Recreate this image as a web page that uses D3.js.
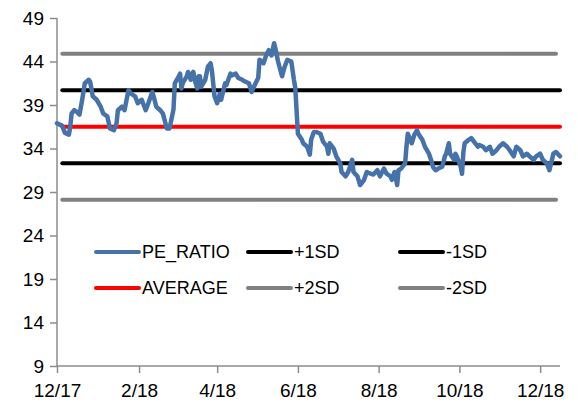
<!DOCTYPE html>
<html>
<head>
<meta charset="utf-8">
<title>PE Ratio with SD bands</title>
<script src="https://d3js.org/d3.v7.min.js"></script>
<style>
  body { margin: 0; background: #fff; }
  text { font-family: "Liberation Sans", Arial, sans-serif; fill: #000; }
</style>
</head>
<body>
<svg width="578" height="406"></svg>
<script>
    // PE ratio readings (date, value)
    const peDates = ["2017-12-01","2017-12-05","2017-12-07","2017-12-10","2017-12-11","2017-12-12","2017-12-14","2017-12-16","2017-12-18","2017-12-20",
        "2017-12-22","2017-12-25","2017-12-26","2017-12-28","2017-12-31","2018-01-03","2018-01-05","2018-01-08","2018-01-10","2018-01-13",
        "2018-01-15","2018-01-16","2018-01-19","2018-01-21","2018-01-24","2018-01-26","2018-01-29","2018-01-31","2018-02-03","2018-02-06",
        "2018-02-08","2018-02-11","2018-02-12","2018-02-14","2018-02-17","2018-02-19","2018-02-22","2018-02-24","2018-02-27","2018-02-28",
        "2018-03-03","2018-03-04","2018-03-05","2018-03-06","2018-03-09","2018-03-10","2018-03-12","2018-03-13","2018-03-14","2018-03-15",
        "2018-03-17","2018-03-18","2018-03-19","2018-03-20","2018-03-23","2018-03-25","2018-03-27","2018-03-28","2018-03-29","2018-03-30",
        "2018-04-01","2018-04-03","2018-04-04","2018-04-07","2018-04-08","2018-04-11","2018-04-12","2018-04-15","2018-04-17","2018-04-20",
        "2018-04-22","2018-04-25","2018-04-27","2018-04-30","2018-05-02","2018-05-03","2018-05-06","2018-05-08","2018-05-10","2018-05-12",
        "2018-05-14","2018-05-15","2018-05-17","2018-05-20","2018-05-22","2018-05-24","2018-05-27","2018-05-29","2018-05-30","2018-06-01",
        "2018-06-04","2018-06-05","2018-06-08","2018-06-10","2018-06-11","2018-06-13","2018-06-15","2018-06-18","2018-06-20","2018-06-23",
        "2018-06-24","2018-06-25","2018-06-28","2018-06-30","2018-07-03","2018-07-04","2018-07-07","2018-07-09","2018-07-12","2018-07-13",
        "2018-07-16","2018-07-18","2018-07-21","2018-07-23","2018-07-26","2018-07-28","2018-07-31","2018-08-02","2018-08-05","2018-08-07",
        "2018-08-10","2018-08-11","2018-08-13","2018-08-15","2018-08-16","2018-08-18","2018-08-21","2018-08-22","2018-08-23","2018-08-26",
        "2018-08-28","2018-08-30","2018-08-31","2018-09-03","2018-09-05","2018-09-08","2018-09-10","2018-09-11","2018-09-13","2018-09-15",
        "2018-09-18","2018-09-20","2018-09-21","2018-09-23","2018-09-24","2018-09-27","2018-09-28","2018-09-29","2018-10-02","2018-10-03",
        "2018-10-04","2018-10-05","2018-10-08","2018-10-10","2018-10-13","2018-10-15","2018-10-16","2018-10-19","2018-10-21","2018-10-24",
        "2018-10-26","2018-10-29","2018-10-31","2018-11-03","2018-11-06","2018-11-08","2018-11-11","2018-11-13","2018-11-16","2018-11-18",
        "2018-11-21","2018-11-23","2018-11-26","2018-11-28","2018-12-01","2018-12-03","2018-12-06","2018-12-08","2018-12-11","2018-12-13",
        "2018-12-16"];
    const peValues = [36.9,36.6,35.8,35.6,36.5,38.0,38.4,38.2,37.9,39.6,
        41.5,41.9,41.7,40.0,39.6,38.8,38.0,37.7,36.3,36.1,
        36.9,38.4,38.8,38.4,40.7,40.3,40.0,39.2,39.6,38.4,
        39.2,40.5,40.0,38.8,38.4,38.0,36.3,36.3,38.5,41.5,
        42.3,42.6,40.9,41.5,42.3,42.8,41.9,42.6,42.8,41.9,
        40.9,42.3,42.3,41.1,41.9,43.4,43.8,43.0,41.5,40.0,
        39.2,40.3,39.6,41.5,41.3,42.6,42.4,42.6,42.1,41.9,
        41.7,41.5,40.5,41.5,42.1,44.2,43.8,44.7,45.3,44.7,
        46.1,45.5,44.0,42.3,43.4,44.2,44.0,41.9,41.0,35.7,
        35.0,34.6,34.2,33.3,35.0,35.9,35.9,35.7,34.8,34.2,
        33.4,34.6,34.0,33.1,32.3,31.3,30.8,31.3,32.7,31.3,
        30.8,29.8,30.4,31.3,31.1,31.0,31.5,30.8,31.7,31.1,
        30.8,30.4,31.3,29.8,31.5,31.7,32.3,34.2,35.7,34.6,
        35.6,36.1,35.7,35.0,34.2,33.4,32.5,31.9,31.5,31.7,
        31.9,33.1,33.4,34.6,33.4,32.7,33.4,33.1,31.9,31.1,
        33.6,34.6,35.0,35.2,34.6,34.2,34.4,34.2,33.8,34.2,
        33.4,33.8,34.2,34.6,34.2,33.8,33.1,34.2,33.8,33.1,
        33.4,33.1,32.7,33.1,33.4,32.7,32.3,31.5,33.4,33.6,
        33.1];

    // flat reference levels
    const bandNames = ["AVERAGE", "+1SD", "-1SD", "+2SD", "-2SD"];
    const bandValues = [36.5, 40.7, 32.3, 44.9, 28.1];
    const bandStart = ["2017-12-05", "2017-12-05", "2017-12-05", "2017-12-05", "2017-12-05"];
    const bandEnd = ["2018-12-16", "2018-12-16", "2018-12-16", "2018-12-13", "2018-12-13"];

    const yTicks = [9, 14, 19, 24, 29, 34, 39, 44, 49];
    const xTickDates = ["2017-12-01","2018-02-01","2018-04-01","2018-06-01","2018-08-01","2018-10-01","2018-12-01"];

    const parse = d3.timeParse("%Y-%m-%d");
    const colors = {"PE_RATIO": "#4672AA", "AVERAGE": "#FF0000", "+1SD": "#000000", "-1SD": "#000000", "+2SD": "#808080", "-2SD": "#808080"};

    var svg = d3.select("svg");

    var x = d3.scaleTime()
        .domain([parse("2017-12-01"), parse("2018-12-16")])
        .range([57, 560]);
    var y = d3.scaleLinear()
        .domain([9, 49])
        .range([366, 18]);

    // axes
    var yAxis = svg.append("g")
        .attr("transform", "translate(57,0)")
        .call(d3.axisLeft(y).tickValues(yTicks).tickSize(7).tickPadding(6).tickFormat(d3.format("d")));
    var xAxis = svg.append("g")
        .attr("transform", "translate(0,366)")
        .call(d3.axisBottom(x).tickValues(xTickDates.map(parse)).tickSize(7).tickPadding(11)
            .tickFormat(d3.timeFormat("%-m/%y")));
    xAxis.select(".domain").attr("d", "M57,0H560");
    yAxis.select(".domain").attr("d", "M0,18V366");
    svg.selectAll(".domain, .tick line").attr("stroke", "#8c8c8c").attr("stroke-width", 1.5);
    svg.selectAll(".tick text").attr("font-size", 19).attr("fill", "#000")
        .style("font-family", "'Liberation Sans', Arial, sans-serif");

    // band lines
    bandNames.forEach((name, i) => {
        svg.append("line")
            .attr("x1", x(parse(bandStart[i])))
            .attr("x2", x(parse(bandEnd[i])))
            .attr("y1", y(bandValues[i]))
            .attr("y2", y(bandValues[i]))
            .attr("stroke", colors[name])
            .attr("stroke-width", 4)
            .attr("stroke-linecap", "round");
    });

    // PE ratio line
    var peData = peDates.map((d, i) => ({date: parse(d), value: peValues[i]}));
    var line = d3.line()
        .x(d => x(d.date))
        .y(d => y(d.value))
        .curve(d3.curveLinear);
    svg.append("path")
        .datum(peData)
        .attr("d", line)
        .attr("fill", "none")
        .attr("stroke", colors["PE_RATIO"])
        .attr("stroke-width", 4.5)
        .attr("stroke-linejoin", "round")
        .attr("stroke-linecap", "round");

    // legend
    var legendItems = ["PE_RATIO", "+1SD", "-1SD", "AVERAGE", "+2SD", "-2SD"];
    var legendCols = [95, 247, 399];
    var legendRows = [252, 288];
    var legend = svg.selectAll(".legendItem")
        .data(legendItems)
        .enter().append("g")
        .attr("class", "legendItem")
        .attr("transform", (d, i) => "translate(" + legendCols[i % 3] + "," + legendRows[Math.floor(i / 3)] + ")");
    legend.append("line")
        .attr("x1", 1).attr("x2", 44)
        .attr("y1", 0).attr("y2", 0)
        .attr("stroke", d => colors[d])
        .attr("stroke-width", 4)
        .attr("stroke-linecap", "round");
    legend.append("text")
        .attr("x", 47)
        .attr("y", 0)
        .attr("dy", "0.35em")
        .attr("font-size", 18)
        .text(d => d);
</script>
</body>
</html>
